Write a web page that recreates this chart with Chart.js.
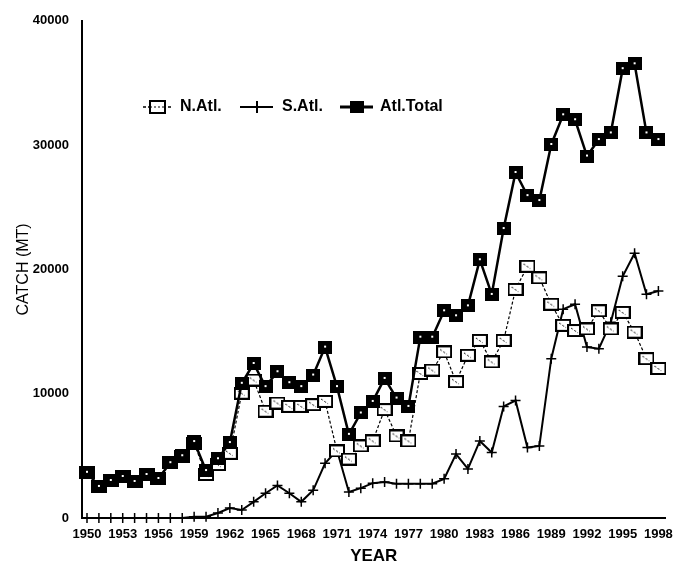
<!DOCTYPE html>
<html>
<head>
<meta charset="utf-8">
<script src="https://cdn.jsdelivr.net/npm/chart.js@4"></script>
<style>
  body { margin: 0; background: #fff; }
  #wrap { position: relative; width: 682px; height: 567px; }
  #legend { position: absolute; left: 0; top: 0; width: 682px; height: 567px; pointer-events: none; }
  .lg { position: absolute; top: 97px; font: bold 16px "Liberation Sans", Arial, sans-serif; color: #000; }
</style>
</head>
<body>
<div id="wrap">
  <canvas id="chart" width="682" height="567"></canvas>
  <svg id="legend" width="682" height="567">
    <line x1="143" y1="107" x2="172" y2="107" stroke="#000" stroke-width="1.5" stroke-dasharray="3,2"/>
    <rect x="150" y="101" width="15" height="12" fill="#fff" stroke="#000" stroke-width="2"/>
    <line x1="150" y1="107" x2="165" y2="107" stroke="#000" stroke-width="1" stroke-dasharray="2,2"/>
    <line x1="240" y1="107" x2="273" y2="107" stroke="#000" stroke-width="2"/>
    <line x1="257" y1="101" x2="257" y2="113" stroke="#000" stroke-width="2"/>
    <line x1="340" y1="107" x2="373" y2="107" stroke="#000" stroke-width="3"/>
    <rect x="350" y="101" width="14" height="12" fill="#000"/>
  </svg>
  <span class="lg" style="left:180px">N.Atl.</span>
  <span class="lg" style="left:282px">S.Atl.</span>
  <span class="lg" style="left:380px">Atl.Total</span>
</div>
<script>
// Catch by year, 1950-1998 (MT)
const years = [];
for (let y = 1950; y <= 1998; y++) years.push(y);

const northAtl = [3680, 2540, 3020, 3340, 2940, 3500, 3180, 4450, 4950, 6000, 3500, 4300, 5200,
    10040, 11100, 8590, 9250, 8980, 8980, 9120, 9380, 5400, 4740, 5800, 6200,
    8720, 6600, 6200, 11630, 11900, 13360, 10970, 13090, 14290, 12560, 14290, 18390,
    20250, 19320, 17200, 15500, 15080, 15210, 16670, 15210, 16540, 14950, 12820, 12030];

const southAtl = [0, 0, 0, 0, 0, 0, 0, 0, 0, 100, 100, 400, 800,
    640, 1300, 1990, 2620, 1990, 1300, 2230, 4400, 5450, 2090, 2400, 2800,
    2890, 2760, 2760, 2760, 2760, 3150, 5140, 3950, 6200, 5270, 8980, 9450,
    5670, 5800, 12820, 16800, 17200, 13750, 13620, 15740, 19450, 21300, 18000, 18260];

const atlTotal = [3680, 2540, 3020, 3340, 2940, 3500, 3180, 4450, 5010, 6150, 3820, 4770, 6070,
    10840, 12430, 10570, 11770, 10890, 10570, 11500, 13750, 10570, 6730, 8450, 9380,
    11230, 9650, 8980, 14550, 14550, 16670, 16270, 17070, 20780, 17990, 23290, 27800,
    25940, 25540, 30050, 32440, 32040, 29120, 30450, 30980, 36150, 36540, 30980, 30450];

const xTicks = [1950, 1953, 1956, 1959, 1962, 1965, 1968, 1971, 1974, 1977, 1980, 1983, 1986, 1989, 1992, 1995, 1998];
const yTicks = [0, 10000, 20000, 30000, 40000];

// marker images
function makeFilledSquare() {
    const c = document.createElement('canvas');
    c.width = 14; c.height = 13;
    const g = c.getContext('2d');
    g.fillStyle = '#000';
    g.fillRect(0, 0, 14, 13);
    g.fillStyle = '#fff';
    g.fillRect(6, 5, 2, 2);
    return c;
}
function makeOpenSquare() {
    const c = document.createElement('canvas');
    c.width = 16; c.height = 13;
    const g = c.getContext('2d');
    g.fillStyle = '#fff';
    g.fillRect(0, 0, 16, 13);
    g.strokeStyle = '#000';
    g.lineWidth = 2;
    g.strokeRect(1, 1, 14, 11);
    g.lineWidth = 1;
    g.setLineDash([2, 2]);
    g.beginPath();
    g.moveTo(4, 4); g.lineTo(11, 9);
    g.stroke();
    return c;
}

const font = { family: '"Liberation Sans", Arial, sans-serif', weight: 'bold', size: 13 };

new Chart(document.getElementById('chart'), {
    type: 'line',
    data: {
        labels: years,
        datasets: [
            {
                label: 'Atl.Total',
                data: atlTotal,
                borderColor: '#000',
                borderWidth: 2.5,
                pointStyle: makeFilledSquare(),
                tension: 0
            },
            {
                label: 'N.Atl.',
                data: northAtl,
                borderColor: '#000',
                borderWidth: 1.2,
                borderDash: [3, 2],
                pointStyle: makeOpenSquare(),
                tension: 0
            },
            {
                label: 'S.Atl.',
                data: southAtl,
                borderColor: '#000',
                borderWidth: 2,
                pointStyle: 'cross',
                pointRadius: 5,
                pointBorderWidth: 1.5,
                pointBorderColor: '#000',
                tension: 0
            }
        ]
    },
    options: {
        responsive: false,
        animation: false,
        clip: false,
        layout: { padding: { left: 0, top: 11, right: 12, bottom: 0 } },
        plugins: { legend: { display: false }, tooltip: { enabled: false } },
        scales: {
            x: {
                type: 'linear',
                min: 1949.58,
                max: 1998.6,
                afterBuildTicks: s => { s.ticks = xTicks.map(v => ({ value: v })); },
                afterFit: s => { s.height = 49; },
                grid: { display: false, drawTicks: false },
                border: { display: true, color: '#000', width: 2 },
                ticks: { color: '#000', font: font, padding: 9, maxRotation: 0, autoSkip: false, callback: v => String(v) },
                title: { display: true, text: 'YEAR', color: '#000', font: { family: font.family, weight: 'bold', size: 17 }, padding: { top: 0, bottom: 0 } }
            },
            y: {
                min: 0,
                max: 40000,
                afterBuildTicks: s => { s.ticks = yTicks.map(v => ({ value: v })); },
                afterFit: s => { s.width = 82; },
                grid: { display: false, drawTicks: false },
                border: { display: true, color: '#000', width: 2 },
                ticks: { color: '#000', font: font, padding: 13, callback: v => String(v) },
                title: { display: true, text: 'CATCH (MT)', color: '#000', font: { family: font.family, size: 16 }, padding: { top: 14, bottom: 0 } }
            }
        }
    }
});
</script>
</body>
</html>
